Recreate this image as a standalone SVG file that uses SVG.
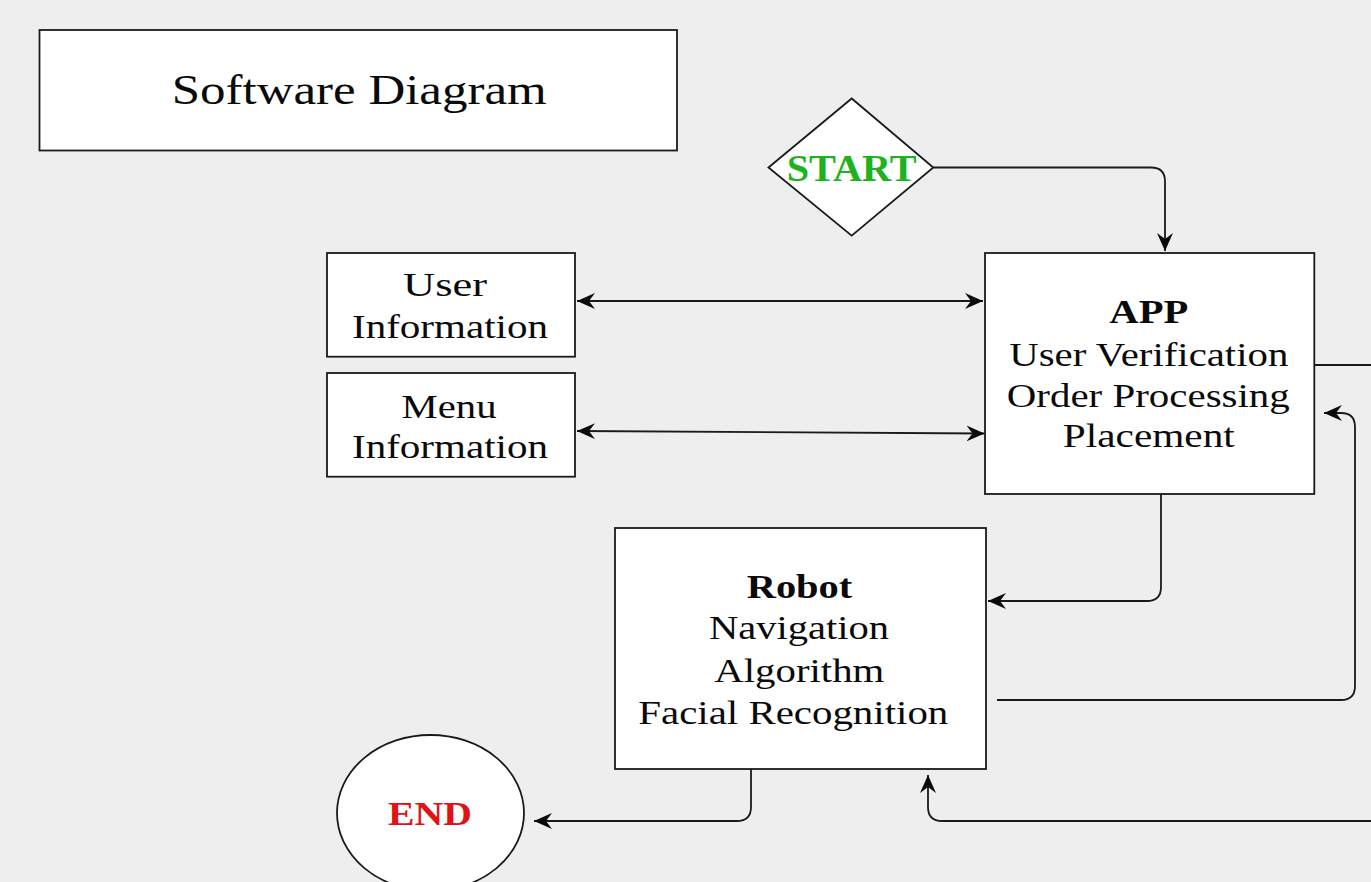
<svg xmlns="http://www.w3.org/2000/svg" width="1371" height="882" viewBox="0 0 1371 882">
  <style>
    .box { fill: #ffffff; stroke: #1a1a1a; stroke-width: 1.8; }
    .t { font-family: 'Liberation Serif', serif; font-size: 33px; fill: #0a0a0a; text-anchor: middle; }
    .b { font-weight: bold; }
    .conn { fill: none; stroke: #1a1a1a; stroke-width: 1.8; }
  </style>
  <defs>
    <marker id="arr" viewBox="0 0 18 16" refX="18" refY="8" markerWidth="18" markerHeight="16" markerUnits="userSpaceOnUse" orient="auto-start-reverse">
      <path d="M0,0 L18,8 L0,16 L6,8 Z" fill="#0a0a0a"/>
    </marker>
  </defs>
  <rect width="1371" height="882" fill="#eeeeee"/>

  <g id="title">
    <rect class="box" x="39.5" y="30" width="637.5" height="120.5"/>
    <text class="t" x="359.2" y="103.5" style="font-size:43px" textLength="375" lengthAdjust="spacingAndGlyphs">Software Diagram</text>
  </g>

  <g id="start">
    <polygon class="box" points="768.5,167.5 851.7,98.5 933.3,167.5 851.7,235.7"/>
    <text class="t b" x="851.7" y="180.7" style="font-size:38px;fill:#1fb21f" textLength="130" lengthAdjust="spacingAndGlyphs">START</text>
  </g>

  <g id="user-info">
    <rect class="box" x="327" y="253" width="248" height="103.7"/>
    <text class="t" x="445" y="295.7" textLength="84" lengthAdjust="spacingAndGlyphs">User</text>
    <text class="t" x="450" y="337.7" textLength="196" lengthAdjust="spacingAndGlyphs">Information</text>
  </g>

  <g id="menu-info">
    <rect class="box" x="327" y="373" width="248" height="103.7"/>
    <text class="t" x="449" y="417.7" textLength="95" lengthAdjust="spacingAndGlyphs">Menu</text>
    <text class="t" x="450" y="458.3" textLength="196" lengthAdjust="spacingAndGlyphs">Information</text>
  </g>

  <g id="app">
    <rect class="box" x="985" y="253" width="329.3" height="241"/>
    <text class="t b" x="1148.8" y="323.3" textLength="79" lengthAdjust="spacingAndGlyphs">APP</text>
    <text class="t" x="1148.8" y="366" textLength="279" lengthAdjust="spacingAndGlyphs">User Verification</text>
    <text class="t" x="1148.3" y="406.7" textLength="283" lengthAdjust="spacingAndGlyphs">Order Processing</text>
    <text class="t" x="1148.8" y="447" textLength="172" lengthAdjust="spacingAndGlyphs">Placement</text>
  </g>

  <g id="robot">
    <rect class="box" x="615" y="528" width="371" height="241"/>
    <text class="t b" x="799.5" y="598.3" textLength="105.6" lengthAdjust="spacingAndGlyphs">Robot</text>
    <text class="t" x="799" y="639.3" textLength="180" lengthAdjust="spacingAndGlyphs">Navigation</text>
    <text class="t" x="799.3" y="681.7" textLength="170" lengthAdjust="spacingAndGlyphs">Algorithm</text>
    <text class="t" x="793.3" y="724" textLength="310" lengthAdjust="spacingAndGlyphs">Facial Recognition</text>
  </g>

  <g id="end">
    <ellipse class="box" cx="430.5" cy="813" rx="93.5" ry="78"/>
    <text class="t b" x="430" y="825" style="font-size:34px;fill:#e01414" textLength="84" lengthAdjust="spacingAndGlyphs">END</text>
  </g>

  <g id="connectors">
    <path class="conn" d="M933.3,167.5 H1151 Q1165,167.5 1165,181.5 V251" marker-end="url(#arr)"/>
    <path class="conn" d="M577,301 H983" marker-start="url(#arr)" marker-end="url(#arr)"/>
    <path class="conn" d="M577,431 L984.5,433.5" marker-start="url(#arr)" marker-end="url(#arr)"/>
    <path class="conn" d="M1161,494 V587 Q1161,601 1147,601 H988" marker-end="url(#arr)"/>
    <path class="conn" d="M997,700 H1341 Q1355,700 1355,686 V427 Q1355,413 1341,413 H1324" marker-end="url(#arr)"/>
    <path class="conn" d="M1314.3,365 H1371"/>
    <path class="conn" d="M1371,821 H942 Q928,821 928,807 V775" marker-end="url(#arr)"/>
    <path class="conn" d="M751,769 V807 Q751,821 737,821 H534" marker-end="url(#arr)"/>
  </g>
</svg>
